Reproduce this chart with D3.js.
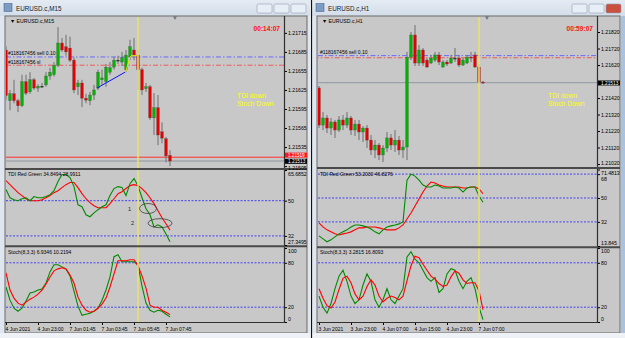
<!DOCTYPE html>
<html>
<head>
<meta charset="utf-8">
<style>
  body { margin: 0; background: #fff; }
  svg text { font-family: "Liberation Sans", Arial, sans-serif; }
</style>
</head>
<body>
<script src="https://d3js.org/d3.v7.min.js"></script>
<script>
// ---------- M15 window (left) ----------
var m15Open  = [1.21688,1.21608,1.21619,1.21608,1.21600,1.21638,1.21622,1.21641,1.21628,1.21631,1.21633,1.21647,1.21649,1.21664,1.21699,1.21693,1.21691,1.21672,1.21630,1.21636,1.21612,1.21608,1.21617,1.21628,1.21641,1.21638,1.21653,1.21661,1.21672,1.21669,1.21657,1.21677,1.21688,1.21680,1.21657,1.21627,1.21630,1.21581,1.21597,1.21559,1.21548,1.21522];
var m15High  = [1.21694,1.21625,1.21641,1.21611,1.21649,1.21649,1.21653,1.21644,1.21634,1.21636,1.21653,1.21660,1.21669,1.21724,1.21707,1.21712,1.21709,1.21676,1.21641,1.21641,1.21619,1.21622,1.21633,1.21657,1.21657,1.21666,1.21669,1.21677,1.21679,1.21685,1.21688,1.21704,1.21707,1.21688,1.21660,1.21636,1.21633,1.21620,1.21617,1.21574,1.21551,1.21530];
var m15Low   = [1.21609,1.21593,1.21604,1.21590,1.21598,1.21617,1.21619,1.21625,1.21622,1.21628,1.21630,1.21641,1.21646,1.21661,1.21685,1.21679,1.21669,1.21620,1.21617,1.21598,1.21604,1.21601,1.21609,1.21625,1.21633,1.21630,1.21649,1.21657,1.21666,1.21663,1.21653,1.21672,1.21672,1.21625,1.21617,1.21622,1.21578,1.21554,1.21538,1.21541,1.21511,1.21505];
var m15Close = [1.21616,1.21619,1.21608,1.21600,1.21638,1.21620,1.21641,1.21628,1.21631,1.21631,1.21647,1.21653,1.21664,1.21699,1.21688,1.21685,1.21672,1.21625,1.21636,1.21612,1.21609,1.21617,1.21625,1.21653,1.21644,1.21661,1.21660,1.21672,1.21672,1.21676,1.21680,1.21693,1.21680,1.21657,1.21625,1.21630,1.21581,1.21597,1.21554,1.21549,1.21521,1.21513];
var m15TdiRed   = [60.3,58.2,56.2,54.1,52.6,51.0,50.0,50.0,50.0,50.5,51.5,52.6,54.1,55.1,56.7,58.2,59.3,59.3,56.7,53.6,51.0,49.0,47.4,46.4,46.4,46.4,48.5,51.0,53.6,54.6,56.2,57.7,58.2,57.7,56.2,54.1,51.5,48.5,44.9,41.3,38.2,34.8494];
var m15TdiGreen = [55.7,51.5,50.5,50.0,51.0,51.5,50.0,52.1,51.5,51.5,52.1,53.1,55.1,59.8,63.4,63.4,61.8,57.2,47.9,46.9,42.8,41.8,43.8,45.4,46.9,47.9,52.6,56.2,57.2,56.7,52.6,58.7,61.3,57.7,51.5,45.9,42.8,36.6,37.7,36.6,33.0,28.9911];
var m15StochMain   = [47.3,29.5,18.6,14.5,18.6,28.2,39.1,40.5,43.2,44.5,52.7,67.7,77.3,77.3,74.5,71.8,62.3,41.8,21.4,9.1,10.5,11.8,14.5,18.6,29.5,43.2,60.9,88.2,90.9,81.4,81.4,81.4,81.4,77.3,48.6,25.5,15.9,13.2,15.9,14.5,10.5,6.9346];
var m15StochSignal = [66.4,43.2,32.3,25.5,22.7,26.8,30.9,33.6,37.7,43.2,51.4,60.9,69.1,71.8,73.2,71.8,63.6,52.7,33.6,22.7,15.9,13.2,14.5,18.6,24.1,32.3,47.3,65.0,82.7,82.7,82.7,84.1,84.1,75.9,62.3,45.9,22.7,20.0,20.0,15.9,13.2,10.2194];
var m15PriceTicks = [1.21715,1.21685,1.21655,1.21625,1.21595,1.21565,1.21535,1.21505];
var m15TdiTicks = [65.6852,50,32,27.3495];
var m15TimeTicks = [0,8,16,24,32,40];
var m15TimeLabels = ["4 Jun 2021","4 Jun 23:00","7 Jun 01:45","7 Jun 03:45","7 Jun 05:45","7 Jun 07:45"];
var m15TrendBars = [22.75, 29.75];
var m15TrendPrices = [1.21628, 1.21653];
var m15ZigBars = [29.9, 31.0, 31.3, 32.8];
var m15ZigPrices = [1.21653, 1.21677, 1.21679, 1.21679];

// ---------- H1 window (right) ----------
var h1Open  = [1.21481,1.21256,1.21299,1.21238,1.21275,1.21226,1.21287,1.21256,1.21299,1.21226,1.21262,1.21214,1.21238,1.21165,1.21105,1.21135,1.21075,1.21117,1.21178,1.21135,1.21165,1.21105,1.21123,1.21668,1.21802,1.21632,1.21711,1.21650,1.21632,1.21650,1.21681,1.21608,1.21638,1.21632,1.21662,1.21662,1.21620,1.21632,1.21668,1.21681,1.21608,1.21517];
var h1High  = [1.21493,1.21335,1.21317,1.21299,1.21287,1.21311,1.21317,1.21335,1.21311,1.21287,1.21287,1.21250,1.21256,1.21196,1.21165,1.21147,1.21135,1.21214,1.21202,1.21226,1.21190,1.21165,1.21699,1.21820,1.21862,1.21741,1.21723,1.21662,1.21681,1.21699,1.21699,1.21650,1.21650,1.21681,1.21723,1.21681,1.21662,1.21681,1.21699,1.21699,1.21626,1.21523];
var h1Low   = [1.21238,1.21226,1.21208,1.21196,1.21178,1.21214,1.21226,1.21238,1.21196,1.21190,1.21165,1.21153,1.21117,1.21075,1.21056,1.21044,1.21032,1.21093,1.21105,1.21093,1.21075,1.21056,1.21044,1.21650,1.21614,1.21614,1.21614,1.21602,1.21626,1.21638,1.21620,1.21602,1.21614,1.21626,1.21638,1.21608,1.21614,1.21626,1.21638,1.21602,1.21505,1.21505];
var h1Close = [1.21256,1.21299,1.21238,1.21275,1.21226,1.21287,1.21256,1.21299,1.21226,1.21262,1.21214,1.21238,1.21165,1.21105,1.21135,1.21075,1.21117,1.21178,1.21135,1.21165,1.21105,1.21123,1.21668,1.21802,1.21632,1.21711,1.21632,1.21608,1.21662,1.21681,1.21638,1.21638,1.21626,1.21662,1.21662,1.21620,1.21650,1.21668,1.21662,1.21608,1.21517,1.21513];
var h1TdiRed   = [31.2,28.2,26.0,24.5,23.0,22.2,23.0,23.7,24.5,26.0,27.5,27.5,28.2,28.2,28.2,27.5,26.7,26.0,26.0,26.0,27.5,29.7,34.2,38.7,44.0,49.2,54.5,59.0,62.0,61.3,59.8,59.0,58.3,58.3,58.3,58.3,57.5,57.5,58.3,58.3,56.8,53.2030];
var h1TdiGreen = [21.5,19.2,17.0,18.5,20.7,23.0,24.5,26.0,28.2,29.7,29.7,29.0,28.2,26.7,24.5,23.0,26.0,28.2,29.0,29.7,30.5,32.0,63.5,68.0,66.5,63.5,59.8,58.3,58.3,59.8,59.0,57.5,57.5,57.5,58.3,57.5,54.5,57.5,58.3,58.3,51.5,46.8276];
var h1StochMain   = [35,20,12,25,45,62,70,55,35,25,30,50,65,55,30,20,30,45,30,25,35,45,88,95,85,80,70,60,55,60,40,45,65,72,70,55,45,55,60,45,20,3.2815];
var h1StochSignal = [45,32,22,19,27,44,59,62,53,38,30,35,48,57,50,35,27,32,35,33,30,35,56,76,89,87,78,70,62,58,52,48,50,61,69,66,57,52,53,53,42,16.8093];
var h1PriceTicks = [1.21820,1.21720,1.21620,1.21420,1.21320,1.21220,1.21120,1.21020];
var h1TdiTicks = [71.4813,68,50,32,13.845];
var h1TimeTicks = [0,8,16,24,32,40];
var h1TimeLabels = ["3 Jun 2021","3 Jun 23:00","4 Jun 07:00","4 Jun 15:00","4 Jun 23:00","7 Jun 07:00"];

var stochTicks = [100,80,20,0];
var sellPrice = 1.21677, slPrice = 1.21664, askPrice = 1.21519, bidPrice = 1.21513;

var svg = d3.select("body").append("svg").attr("width", 625).attr("height", 338);
var defs = svg.append("defs");
var tb = defs.append("linearGradient").attr("id", "tb").attr("x1", 0).attr("y1", 0).attr("x2", 0).attr("y2", 1);
tb.append("stop").attr("offset", 0).attr("stop-color", "#e4ebf3");
tb.append("stop").attr("offset", 1).attr("stop-color", "#d3dde9");

var GREEN = "#00b400", RED = "#e60000", BG = "#c8c8c8";

// right-hand scale; labels at the ends of a panel are pulled inside it
function smallAxis(g, scale, ticks, fmt, xPos, extraDy) {
  var dom = scale.domain(), lo = Math.min(dom[0], dom[1]), hi = Math.max(dom[0], dom[1]);
  var a = g.append("g").attr("transform", "translate(" + xPos + ",0)")
    .call(d3.axisRight(scale).tickValues(ticks).tickFormat(fmt).tickSize(2).tickPadding(1));
  a.select(".domain").remove();
  a.attr("font-size", 5.2).attr("font-family", "Liberation Sans, Arial, sans-serif");
  a.selectAll("line").attr("stroke", "#000");
  a.selectAll(".tick text").attr("fill", "#000").attr("dy", function (d) {
    if (extraDy && extraDy[d] !== undefined) return extraDy[d];
    if (Math.abs(d - hi) < 1e-9) return "0.85em";
    if (Math.abs(d - lo) < 1e-9) return "-0.25em";
    return "0.32em";
  });
  return a;
}

function drawWindow(c) {
  var g = svg.append("g");
  // frame + title bar
  g.append("rect").attr("x", c.winX).attr("y", 0).attr("width", c.winW).attr("height", 338).attr("fill", "#dfe6ef");
  g.append("rect").attr("x", c.winX).attr("y", 0).attr("width", c.winW).attr("height", 16).attr("fill", "url(#tb)");
  g.append("rect").attr("x", c.winX + 4).attr("y", 3.5).attr("width", 8).attr("height", 8)
    .attr("fill", "#7d9cc4").attr("stroke", "#4a6a94").attr("stroke-width", 0.6);
  g.append("text").attr("x", c.winX + 16).attr("y", 11).attr("font-size", 6.3).attr("fill", "#1a1a1a").text(c.title);
  var btnX = c.winX + c.winW - 53;
  [0, 1, 2].forEach(function (k) {
    g.append("rect").attr("x", btnX + k * 17).attr("y", 4).attr("width", 15).attr("height", 9).attr("rx", 1.5)
      .attr("fill", (k === 2 && c.active) ? "#c9503c" : "#e8eef5").attr("stroke", "#8d9db2").attr("stroke-width", 0.6);
  });
  // chart client
  g.append("rect").attr("x", c.plotL - 1).attr("y", 16).attr("width", c.clientR - c.plotL + 1).attr("height", 317)
    .attr("fill", BG).attr("stroke", "#6a6a6a").attr("stroke-width", 1);
  g.append("rect").attr("x", c.winX).attr("y", 333).attr("width", c.winW).attr("height", 5).attr("fill", "#eef1f5");

  var x = d3.scaleLinear().domain([c.i0, 69.5]).range([c.plotL, c.plotR]);
  var yP = d3.scaleLinear().domain(c.priceDom).range([c.main[1], c.main[0]]);
  var yT = d3.scaleLinear().domain(c.tdiDom).range([c.tdi[1], c.tdi[0]]);
  var yS = d3.scaleLinear().domain([0, 100]).range([c.stoch[1], c.stoch[0]]);

  function clip(id, y0, y1) {
    defs.append("clipPath").attr("id", id).append("rect")
      .attr("x", c.plotL).attr("y", y0).attr("width", c.plotR - c.plotL).attr("height", y1 - y0);
    return g.append("g").attr("clip-path", "url(#" + id + ")");
  }
  var pm = clip(c.id + "m", c.main[0], c.main[1]);
  var pt = clip(c.id + "t", c.tdi[0], c.tdi[1]);
  var ps = clip(c.id + "s", c.stoch[0], c.stoch[1]);

  // horizontal order lines
  pm.append("line").attr("x1", c.plotL).attr("x2", c.plotR).attr("y1", yP(sellPrice)).attr("y2", yP(sellPrice))
    .attr("stroke", "#6a6aff").attr("stroke-width", 1).attr("stroke-dasharray", "5,2,1.5,2");
  pm.append("line").attr("x1", c.plotL).attr("x2", c.plotR).attr("y1", yP(slPrice)).attr("y2", yP(slPrice))
    .attr("stroke", "#ee5a5a").attr("stroke-width", 1).attr("stroke-dasharray", "5,2,1.5,2").attr("stroke-dashoffset", c.dashOff);
  if (c.showAsk) {
    pm.append("line").attr("x1", c.plotL).attr("x2", c.plotR).attr("y1", yP(askPrice)).attr("y2", yP(askPrice))
      .attr("stroke", "#ff3030").attr("stroke-width", 1);
  }
  pm.append("line").attr("x1", c.plotL).attr("x2", c.plotR).attr("y1", yP(bidPrice)).attr("y2", yP(bidPrice))
    .attr("stroke", "#8f98a0").attr("stroke-width", 1);

  // yellow vertical line
  g.append("line").attr("x1", x(c.vBar)).attr("x2", x(c.vBar)).attr("y1", c.main[0]).attr("y2", c.stoch[1])
    .attr("stroke", "#e8e070").attr("stroke-width", 1.6);

  // candles
  var idx = d3.range(c.open.length);
  pm.selectAll(".wick").data(idx).enter().append("line")
    .attr("x1", function (i) { return x(i); }).attr("x2", function (i) { return x(i); })
    .attr("y1", function (i) { return yP(c.high[i]); }).attr("y2", function (i) { return yP(c.low[i]); })
    .attr("stroke", "#6e6e6e").attr("stroke-width", 1);
  pm.selectAll(".body").data(idx).enter().append("rect")
    .attr("x", function (i) { return x(i) - 1.4; }).attr("width", 2.8)
    .attr("y", function (i) { return yP(Math.max(c.open[i], c.close[i])); })
    .attr("height", function (i) { return Math.max(1, Math.abs(yP(c.open[i]) - yP(c.close[i]))); })
    .attr("fill", function (i) { return c.close[i] > c.open[i] ? GREEN : (c.close[i] < c.open[i] ? RED : "#202020"); })
    .attr("stroke", "#505050").attr("stroke-width", 0.3);

  // extra drawings
  if (c.trendBars) {
    pm.append("path").attr("fill", "none").attr("stroke", "#1010ff").attr("stroke-width", 1)
      .attr("d", d3.line().x(function (d) { return x(d[0]); }).y(function (d) { return yP(d[1]); })(d3.zip(c.trendBars, c.trendPrices)));
    pm.append("path").attr("fill", "none").attr("stroke", "#f0e000").attr("stroke-width", 1)
      .attr("d", d3.line().x(function (d) { return x(d[0]); }).y(function (d) { return yP(d[1]); })(d3.zip(c.zigBars, c.zigPrices)));
  }

  // texts in main panel
  g.append("text").attr("x", c.plotL + 4).attr("y", 22.5).attr("font-size", 5.2).attr("fill", "#000").text("\u25BC " + c.title);
  g.append("path").attr("d", d3.symbol().type(d3.symbolTriangle).size(8)).attr("fill", "#707a86")
    .attr("transform", "translate(" + c.shiftX + ",17.5) rotate(180)");
  g.append("text").attr("x", c.plotR - 4).attr("y", 31).attr("text-anchor", "end").attr("font-size", 6.6)
    .attr("font-weight", "bold").attr("fill", "#ff1010").text(c.timer);
  g.append("text").attr("x", c.noteX).attr("y", 97.5).attr("font-size", 6.8).attr("fill", "#ffff00").text("TDI down");
  g.append("text").attr("x", c.noteX).attr("y", 106).attr("font-size", 6.8).attr("fill", "#ffff00").text("Stoch Down");
  g.append("text").attr("x", c.plotL + 2).attr("y", yP(sellPrice) - 2).attr("font-size", 5).attr("fill", "#000").text("#118167456 sell 0.10");
  if (c.showSl) {
    g.append("text").attr("x", c.plotL + 2).attr("y", yP(slPrice) - 1.5).attr("font-size", 5).attr("fill", "#000").text("#118167456 sl");
  }

  // TDI
  [68, 50, 32].forEach(function (v) {
    pt.append("line").attr("x1", c.plotL).attr("x2", c.plotR).attr("y1", yT(v)).attr("y2", yT(v))
      .attr("stroke", "#2020ff").attr("stroke-width", 0.8).attr("stroke-dasharray", "2,1.5");
  });
  var lineT = d3.line().x(function (d, i) { return x(i); }).y(function (d) { return yT(d); });
  pt.append("path").attr("d", lineT(c.tdiRed)).attr("fill", "none").attr("stroke", "#ff0000").attr("stroke-width", 1.1);
  pt.append("path").attr("d", lineT(c.tdiGreen)).attr("fill", "none").attr("stroke", "#008a00").attr("stroke-width", 1.1);
  g.append("text").attr("x", c.plotL + 2).attr("y", c.tdi[0] + 6).attr("font-size", 5).attr("fill", "#000")
    .text("TDI Red Green " + c.tdiRed[c.tdiRed.length - 1].toFixed(4) + " " + c.tdiGreen[c.tdiGreen.length - 1].toFixed(4));

  // Stoch
  [80, 20].forEach(function (v) {
    ps.append("line").attr("x1", c.plotL).attr("x2", c.plotR).attr("y1", yS(v)).attr("y2", yS(v))
      .attr("stroke", "#2020ff").attr("stroke-width", 0.8).attr("stroke-dasharray", "2,1.5");
  });
  var lineS = d3.line().x(function (d, i) { return x(i); }).y(function (d) { return yS(d); });
  ps.append("path").attr("d", lineS(c.stMain)).attr("fill", "none").attr("stroke", "#008a00").attr("stroke-width", 1.1);
  ps.append("path").attr("d", lineS(c.stSig)).attr("fill", "none").attr("stroke", "#ff0000").attr("stroke-width", 1.1);
  g.append("text").attr("x", c.plotL + 2).attr("y", c.stoch[0] + 5.5).attr("font-size", 5).attr("fill", "#000")
    .text("Stoch(8,3,3) " + c.stMain[c.stMain.length - 1].toFixed(4) + " " + c.stSig[c.stSig.length - 1].toFixed(4));

  // panel borders
  g.append("line").attr("x1", c.plotR + 0.5).attr("x2", c.plotR + 0.5).attr("y1", 16).attr("y2", c.stoch[1] + 1)
    .attr("stroke", "#303030").attr("stroke-width", 1.2);
  [c.main[1] + 1, c.tdi[1] + 1.3].forEach(function (yy) {
    g.append("line").attr("x1", c.plotL - 1).attr("x2", c.clientR).attr("y1", yy).attr("y2", yy)
      .attr("stroke", "#4a4a4a").attr("stroke-width", 2);
  });
  g.append("line").attr("x1", c.plotL - 1).attr("x2", c.plotR + 1).attr("y1", c.stoch[1] + 0.5).attr("y2", c.stoch[1] + 0.5)
    .attr("stroke", "#303030").attr("stroke-width", 1.2);

  // right-hand scales
  smallAxis(g, yP, c.priceTicks, d3.format(".5f"), c.plotR + 1, c.priceDy);
  smallAxis(g, yT, c.tdiTicks, function (d) { return String(d); }, c.plotR + 1, c.tdiDy);
  smallAxis(g, yS, stochTicks, function (d) { return String(d); }, c.plotR + 1);

  // price tags (ask tag sits just above the bid tag)
  if (c.showAsk) {
    g.append("rect").attr("x", c.plotR + 1).attr("y", yP(askPrice) - 4.6).attr("width", c.clientR - c.plotR - 1).attr("height", 5).attr("fill", "#ff1a1a");
    g.append("text").attr("x", c.plotR + 4).attr("y", yP(askPrice) - 0.6).attr("font-size", 4.6).attr("fill", "#fff").text(askPrice.toFixed(5));
  }
  g.append("rect").attr("x", c.plotR + 1).attr("y", yP(bidPrice) - 2.2).attr("width", c.clientR - c.plotR - 1).attr("height", 5).attr("fill", "#000");
  g.append("text").attr("x", c.plotR + 4).attr("y", yP(bidPrice) + 1.9).attr("font-size", 4.8).attr("fill", "#fff").text(bidPrice.toFixed(5));

  // time axis
  var ta = g.append("g").attr("transform", "translate(0," + (c.stoch[1] + 1) + ")")
    .call(d3.axisBottom(x).tickValues(c.timeTicks).tickFormat(function (d, k) { return c.timeLabels[k]; }).tickSize(2).tickPadding(2));
  ta.select(".domain").remove();
  ta.attr("font-size", 5).attr("font-family", "Liberation Sans, Arial, sans-serif");
  ta.selectAll("line").attr("stroke", "#000");
  ta.selectAll("text").attr("fill", "#000").attr("text-anchor", "start").attr("dx", -1);
  return { g: g, x: x, yT: yT };
}

var left = drawWindow({
  id: "L", title: "EURUSD.c,M15", winX: 0, winW: 310, plotL: 6, plotR: 284, clientR: 307, i0: 0, active: false,
  main: [17, 168], tdi: [170, 245], stoch: [248, 322],
  priceDom: [1.21502, 1.21740], tdiDom: [27.3495, 65.6852],
  open: m15Open, high: m15High, low: m15Low, close: m15Close,
  tdiRed: m15TdiRed, tdiGreen: m15TdiGreen, stMain: m15StochMain, stSig: m15StochSignal,
  priceTicks: m15PriceTicks, tdiTicks: m15TdiTicks, timeTicks: m15TimeTicks, timeLabels: m15TimeLabels,
  priceDy: { 1.21505: "0.7em" }, tdiDy: { 65.6852: "1.1em" },
  vBar: 33, shiftX: 175, timer: "00:14:07", noteX: 237, showAsk: true, showSl: true, dashOff: 0,
  trendBars: m15TrendBars, trendPrices: m15TrendPrices, zigBars: m15ZigBars, zigPrices: m15ZigPrices
});

// annotations on the M15 TDI panel: ellipses and numbers
var ellipseBars = [35.5, 38.5], ellipseVals = [46.0, 38.5], ellipseLabels = ["1", "2"];
ellipseBars.forEach(function (b, k) {
  left.g.append("ellipse").attr("cx", left.x(b)).attr("cy", left.yT(ellipseVals[k]))
    .attr("rx", k === 0 ? 8.5 : 12).attr("ry", k === 0 ? 5 : 4.5)
    .attr("fill", "none").attr("stroke", "#404040").attr("stroke-width", 0.8);
  left.g.append("text").attr("x", left.x(b) - (k === 0 ? 20 : 29)).attr("y", left.yT(ellipseVals[k]) + 2)
    .attr("font-size", 5.5).attr("fill", "#202020").text(ellipseLabels[k]);
});

drawWindow({
  id: "R", title: "EURUSD.c,H1", winX: 312, winW: 313, plotL: 318, plotR: 597, clientR: 620, i0: -0.25, active: true,
  main: [17, 167], tdi: [169.5, 246], stoch: [248, 322],
  priceDom: [1.21002, 1.21911], tdiDom: [13.845, 71.4813],
  open: h1Open, high: h1High, low: h1Low, close: h1Close,
  tdiRed: h1TdiRed, tdiGreen: h1TdiGreen, stMain: h1StochMain, stSig: h1StochSignal,
  priceTicks: h1PriceTicks, tdiTicks: h1TdiTicks, timeTicks: h1TimeTicks, timeLabels: h1TimeLabels,
  priceDy: { 1.2102: "0.1em" }, tdiDy: { 71.4813: "0.95em", 68: "1.3em" },
  vBar: 40, shiftX: 487, timer: "00:59:07", noteX: 548, showAsk: false, showSl: false, dashOff: 4.25
});

// divider between the two windows
svg.append("line").attr("x1", 311.5).attr("x2", 311.5).attr("y1", 0).attr("y2", 338).attr("stroke", "#111").attr("stroke-width", 1.2);
svg.append("rect").attr("x", 621).attr("y", 16).attr("width", 4).attr("height", 317).attr("fill", "#a9c2e0");
</script>
</body>
</html>
